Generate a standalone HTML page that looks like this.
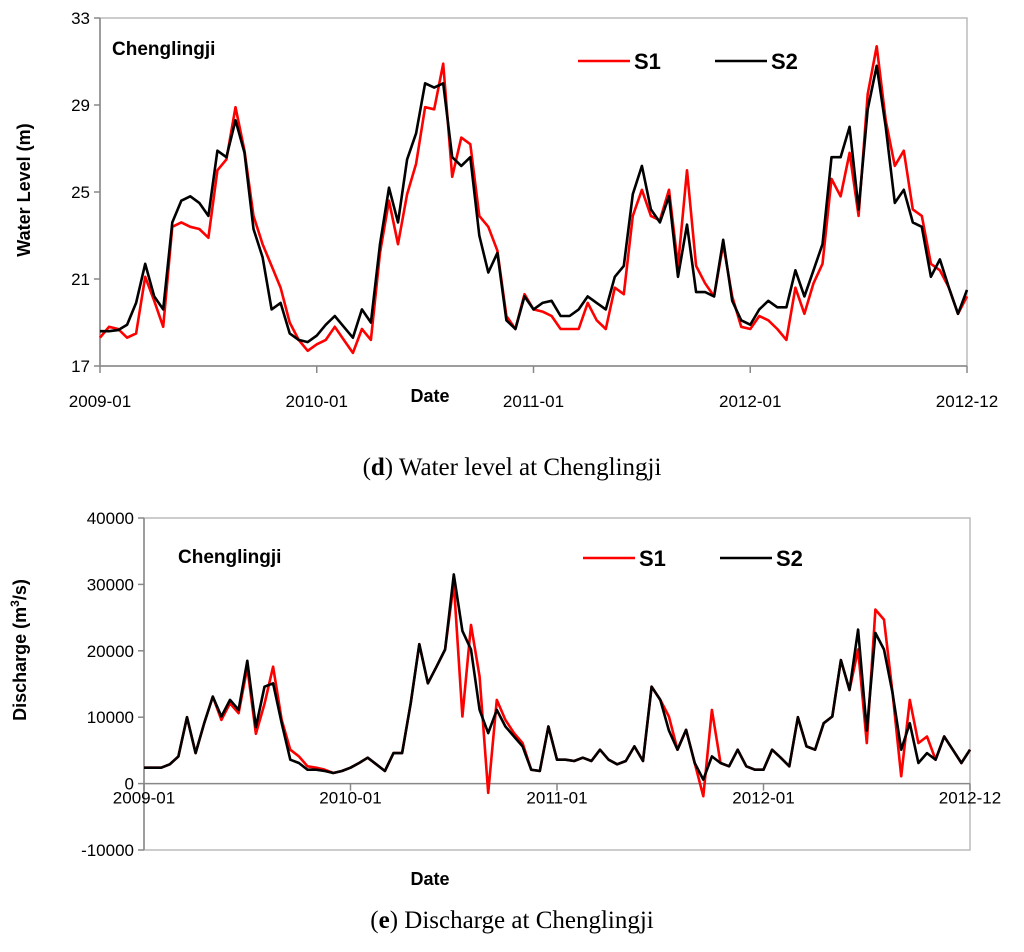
<!DOCTYPE html>
<html><head><meta charset="utf-8">
<style>
body{margin:0;background:#fff;}
svg{display:block;font-family:"Liberation Sans",sans-serif;}
.tick{font-size:17px;fill:#000;}
.bold{font-weight:bold;}
.cap{font-family:"Liberation Serif",serif;font-size:25px;}
</style></head>
<body>
<svg id="svg" width="1024" height="952" viewBox="0 0 1024 952">
<text x="512" y="475" text-anchor="middle" class="cap">(<tspan font-weight="bold">d</tspan>) Water level at Chenglingji</text>
<text x="512" y="928" text-anchor="middle" class="cap">(<tspan font-weight="bold">e</tspan>) Discharge at Chenglingji</text>
</svg>
<script>
const months = [];
for (let i = 0; i <= 96; i++) months.push(i / 2);
const xTickLabels = ["2009-01","2010-01","2011-01","2012-01","2012-12"];
const wlTicks = [17,21,25,29,33];
const qTicks = [-10000,0,10000,20000,30000,40000];
const wlS2 = [18.6,18.6,18.65,18.9,19.9,21.7,20.2,19.6,23.6,24.6,24.8,24.5,23.9,26.9,26.6,28.3,26.8,23.3,22.0,19.6,19.9,18.5,18.2,18.1,18.4,18.9,19.3,18.8,18.3,19.6,19.0,22.6,25.2,23.6,26.5,27.7,30.0,29.8,30.0,26.6,26.2,26.6,23.0,21.3,22.2,19.1,18.7,20.2,19.6,
19.9,20.0,19.3,19.3,19.6,20.2,19.9,19.6,21.1,21.6,24.9,26.2,24.2,23.6,24.8,21.1,23.5,20.4,20.4,20.2,22.8,20.0,19.1,18.9,19.6,20.0,19.7,19.7,21.4,20.2,21.4,22.6,26.6,26.6,28.0,24.2,28.8,30.8,28.0,24.5,25.1,23.6,23.4,21.1,21.9,20.6,19.4,20.5];
const wlS1 = [18.3,18.8,18.7,18.3,18.5,21.1,20.0,18.8,23.4,23.6,23.4,23.3,22.9,26.0,26.5,28.9,26.9,23.9,22.6,21.6,20.6,19.0,18.2,17.7,18.0,18.2,18.8,18.2,17.6,18.7,18.2,22.2,24.6,22.6,24.9,26.3,28.9,28.8,30.9,25.7,27.5,27.2,23.9,23.4,22.3,19.3,18.7,20.3,19.6,
19.5,19.3,18.7,18.7,18.7,19.9,19.1,18.7,20.6,20.3,23.9,25.1,23.9,23.7,25.1,21.6,26.0,21.6,20.8,20.2,22.6,20.2,18.8,18.7,19.3,19.1,18.7,18.2,20.6,19.4,20.8,21.7,25.6,24.8,26.8,23.9,29.5,31.7,28.3,26.2,26.9,24.2,23.9,21.7,21.4,20.6,19.4,20.2];
const qS2 = [2.4,2.4,2.4,2.9,4.1,10.0,4.6,9.1,13.1,10.1,12.6,11.1,18.5,8.5,14.6,15.1,9.1,3.6,3.1,2.1,2.1,1.9,1.6,1.9,2.4,3.1,3.9,2.9,1.9,4.6,4.6,12.1,21.0,15.1,17.6,20.2,31.5,23.0,20.2,11.1,7.6,11.1,8.6,7.1,5.6,2.1,1.9,8.6,3.6,
3.6,3.4,3.9,3.4,5.1,3.6,2.9,3.4,5.6,3.4,14.6,12.6,8.0,5.1,8.1,3.1,0.6,4.1,3.1,2.6,5.1,2.6,2.1,2.1,5.1,3.9,2.6,10.0,5.6,5.1,9.1,10.1,18.6,14.1,23.2,8.0,22.7,20.2,13.6,5.1,9.1,3.1,4.6,3.6,7.1,5.1,3.1,5.1];
const qS1 = [2.4,2.4,2.4,2.9,4.1,10.0,4.6,9.1,13.1,9.6,12.1,10.6,17.5,7.5,12.0,17.6,9.6,5.1,4.1,2.6,2.4,2.1,1.6,1.9,2.4,3.1,3.9,2.9,1.9,4.6,4.6,12.1,21.0,15.1,17.6,20.2,30.2,10.1,23.9,16.1,-1.4,12.6,9.6,7.6,6.1,2.1,1.9,8.6,3.6,
3.6,3.4,3.9,3.4,5.1,3.6,2.9,3.4,5.6,3.4,14.6,12.6,10.1,5.1,8.1,3.1,-1.9,11.1,3.1,2.6,5.1,2.6,2.1,2.1,5.1,3.9,2.6,10.0,5.6,5.1,9.1,10.1,18.6,14.1,20.2,6.1,26.2,24.7,13.6,1.1,12.6,6.1,7.1,3.6,7.1,5.1,3.1,5.1];

const NS = "http://www.w3.org/2000/svg";
const svg = document.getElementById('svg');
function mk(tag, attrs, parent) {
  const e = document.createElementNS(NS, tag);
  for (const k in attrs) e.setAttribute(k, attrs[k]);
  (parent || svg).appendChild(e);
  return e;
}
function drawChart(o) {
  const xs = m => o.x0 + (o.x1 - o.x0) * m / 48;
  const ys = v => o.yBot + (o.yTop - o.yBot) * (v - o.vMin) / (o.vMax - o.vMin);
  const g = mk('g', {});
  
  
  const frame = mk('rect', {x:o.x0, y:o.yTop, width:o.x1 - o.x0, height:o.yBot - o.yTop, fill:'none', stroke:'#bbb', 'stroke-width':1.5}, g);
  
  
  const yax = mk('line', {x1:o.x0, x2:o.x0, y1:o.yTop, y2:o.yBot, stroke:'#888', 'stroke-width':1.5}, g);
  
  
  const y0 = ys(o.xAxisAt);
  const xax = mk('line', {x1:o.x0, x2:o.x1, y1:y0, y2:y0, stroke:'#888', 'stroke-width':1.5}, g);
  
  
  o.yTicks.forEach(v => {
    const y = ys(v);
    mk('line', {x1:o.x0 - 6, x2:o.x0, y1:y, y2:y, stroke:'#888', 'stroke-width':1.5}, g);
    const t = mk('text', {x:o.x0 - 10, y:y + 6, 'text-anchor':'end', class:'tick'}, g);
    t.textContent = o.fmt(v);
    
    
  });
  xTickLabels.forEach((lab, i) => {
    const x = xs(i * 12);
    mk('line', {x1:x, x2:x, y1:y0, y2:y0 + 7, stroke:'#888', 'stroke-width':1.5}, g);
    const t = mk('text', {x:x, y:y0 + o.xLabOff, 'text-anchor':'middle', class:'tick'}, g);
    t.textContent = lab;
    
    
  });
  [[o.s1, '#ff0000', 'series-s1'], [o.s2, '#000', 'series-s2']].forEach(([arr, c, n]) => {
    const d = arr.map((v, i) => (i ? 'L' : 'M') + xs(months[i]).toFixed(1) + ',' + ys(v).toFixed(1)).join('');
    const p = mk('path', {d:d, fill:'none', stroke:c, 'stroke-width':2.6, 'stroke-linejoin':'round'}, g);
    
    
  });
  const st = mk('text', {x:o.stX, y:o.stY, class:'bold', 'font-size':19}, g);
  st.textContent = 'Chenglingji';
  
  
  [['#ff0000', 'S1', o.lgX], ['#000', 'S2', o.lgX + 137]].forEach(([c, lab, lx]) => {
    const l = mk('line', {x1:lx, x2:lx + 52, y1:o.lgY, y2:o.lgY, stroke:c, 'stroke-width':2.6}, g);
    
    
    const t = mk('text', {x:lx + 56, y:o.lgY + 8, class:'bold', 'font-size':22}, g);
    t.textContent = lab;
    
    
  });
  const dt = mk('text', {x:o.dateX, y:o.dateY, 'text-anchor':'middle', class:'bold', 'font-size':18}, g);
  dt.textContent = 'Date';
  
  
  const yt = mk('text', {x:0, y:0, 'text-anchor':'middle', class:'bold', 'font-size':18, transform:'translate(' + o.ytX + ',' + o.ytY + ') rotate(-90)'}, g);
  yt.innerHTML = o.yTitle;
  
  
}
drawChart({name:'water-level-chart', x0:100, x1:967, yTop:18, yBot:366, vMin:17, vMax:33, xAxisAt:17,
  yTicks:wlTicks, fmt:v => String(v), xLabOff:41, s1:wlS1, s2:wlS2,
  stX:112, stY:55, lgX:578, lgY:61, dateX:430, dateY:402, ytX:30, ytY:190, yTitle:'Water Level (m)'});
drawChart({name:'discharge-chart', x0:144, x1:970, yTop:518, yBot:850, vMin:-10, vMax:40, xAxisAt:0,
  yTicks:qTicks.map(v => v / 1000), fmt:v => String(v * 1000), xLabOff:20, s1:qS1, s2:qS2,
  stX:178, stY:563, lgX:583, lgY:558, dateX:430, dateY:885, ytX:26, ytY:650, yTitle:'Discharge (m<tspan baseline-shift="super" font-size="12">3</tspan>/s)'});
</script>
</body></html>
